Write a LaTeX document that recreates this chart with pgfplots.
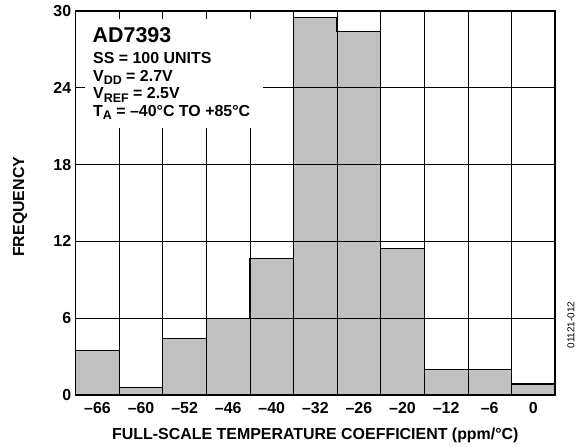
\documentclass[border=0pt]{standalone}
\usepackage{fontspec}
\setmainfont{Liberation Sans}
\usepackage{pgfplots}
\pgfplotsset{compat=1.18}
\definecolor{barfill}{HTML}{C0C0C0}
\begin{document}
\begin{tikzpicture}[x=1bp,y=1bp]
\path[use as bounding box] (0,0) rectangle (587,447);
\begin{axis}[
  name=ax,
  at={(75.7bp,52bp)}, anchor=south west,
  width=479.3bp, height=384bp, scale only axis,
  xmin=0, xmax=11, ymin=0, ymax=30,
  xtick={0.5,1.5,2.5,3.5,4.5,5.5,6.5,7.5,8.5,9.5,10.5},
  xticklabels={–66,–60,–52,–46,–40,–32,–26,–20,–12,–6,0},
  minor xtick={1,2,3,4,5,6,7,8,9,10},
  xminorgrids, ymajorgrids,
  ytick={0,6,12,18,24,30},
  yticklabels={0,6,12,18,24,30},
  major tick length=0, minor tick length=0,
  axis on top,
  axis line style={line width=1.3bp},
  grid style={black, line width=0.7bp},
  minor grid style={black, line width=0.7bp},
  ticklabel style={font=\fontsize{16}{16}\selectfont\bfseries},
  xticklabel style={yshift=-4bp},
  yticklabel style={xshift=-1bp},
  xlabel={FULL-SCALE TEMPERATURE COEFFICIENT (ppm/°C)},
  ylabel={FREQUENCY},
  label style={font=\fontsize{16}{16}\selectfont\bfseries},
  xlabel style={at={(axis description cs:0.5,-0.1042)}, anchor=center},
  ylabel style={at={(axis description cs:-0.1162,0.49)}, anchor=center},
]
\addplot[ybar interval, fill=barfill, draw=none] coordinates {
  (0,3.5) (1,0.6) (2,4.4) (3,6.0) (4,10.65) (5,29.5) (6,28.4) (7,11.45) (8,2.0) (9,2.0) (10,0.85) (11,0.85)};
\addplot[const plot, black, line width=1.3bp] coordinates {
  (0,3.5) (1,0.6) (2,4.4) (3,6.0) (4,10.65) (5,29.5) (6,28.4) (7,11.45) (8,2.0) (9,2.0) (10,0.85) (11,0.85)};
\end{axis}
\fill[white] (85,319) rectangle (263,428);
\node[anchor=base west, inner sep=0, font=\fontsize{21.5}{21.5}\selectfont\bfseries] at (92.5,404.3) {AD7393};
\node[anchor=base west, inner sep=0, font=\fontsize{16}{16}\selectfont\bfseries] at (93,383) {SS = 100 UNITS};
\node[anchor=base west, inner sep=0, font=\fontsize{16}{16}\selectfont\bfseries] at (93,365.5) {V\raisebox{-3.5bp}{\fontsize{12.5}{12.5}\selectfont DD} = 2.7V};
\node[anchor=base west, inner sep=0, font=\fontsize{16}{16}\selectfont\bfseries] at (93,348) {V\raisebox{-3.5bp}{\fontsize{12.5}{12.5}\selectfont REF} = 2.5V};
\node[anchor=base west, inner sep=0, font=\fontsize{16}{16}\selectfont\bfseries] at (93,330.5) {T\raisebox{-3.5bp}{\fontsize{12.5}{12.5}\selectfont A} = –40°C TO +85°C};
\node[rotate=90, inner sep=0, font=\fontsize{10}{10}\selectfont] at (571,122) {01121-012};
\end{tikzpicture}
\end{document}
